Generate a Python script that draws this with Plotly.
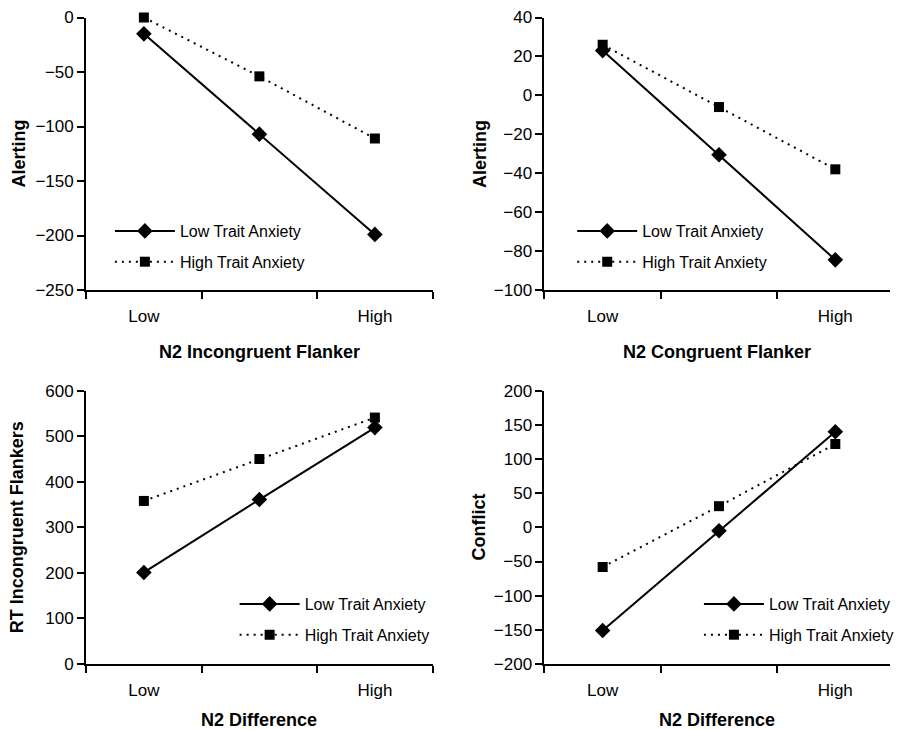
import numpy as np
import plotly.graph_objects as go

# ---- data ----
levels = ["Low", "Medium", "High"]
series_names = ["Low Trait Anxiety", "High Trait Anxiety"]

p1_low = [-15, -107, -199]
p1_high = [0, -54, -111]
p2_low = [23, -30.5, -84.5]
p2_high = [26, -6, -38]
p3_low = [201, 361, 519]
p3_high = [358, 450, 541]
p4_low = [-151, -5, 140]
p4_high = [-58, 31, 122]

panel_xtitles = ["N2 Incongruent Flanker", "N2 Congruent Flanker", "N2 Difference", "N2 Difference"]
panel_ytitles = ["Alerting", "Alerting", "RT Incongruent Flankers", "Conflict"]
panel_yranges = [(-250, 0, 50), (-100, 40, 20), (0, 600, 100), (-200, 200, 50)]
panel_data = [(p1_low, p1_high), (p2_low, p2_high), (p3_low, p3_high), (p4_low, p4_high)]

W, H = 899, 730
FONT = "Liberation Sans, Arial, sans-serif"

# panel geometry in pixels (left, right, top, bottom)
geom = [(87, 437, 17.5, 290), (550, 899, 17.5, 290), (87, 437, 390.7, 664), (550, 899, 390.7, 664)]
xmax = [3.0, 2.97, 3.0, 2.97]
legend_pos = [(111, 214), (578, 214), (237, 587), (706, 587)]
ytitle_x = [19, 485, 18, 484]
xtitle_y = [352, 352, 720, 720]

xpos = np.arange(len(levels)) + 0.5

fig = go.Figure()
annotations = []
for i, ((low, high), (x0, x1, y0, y1)) in enumerate(zip(panel_data, geom)):
    n = i + 1
    xa = "x" if n == 1 else f"x{n}"
    ya = "y" if n == 1 else f"y{n}"
    lg = "legend" if n == 1 else f"legend{n}"
    fig.add_trace(go.Scatter(
        x=xpos, y=low, name=series_names[0], xaxis=xa, yaxis=ya, legend=lg,
        mode="lines+markers", cliponaxis=False, legendgroup=f"a{n}",
        line=dict(color="black", width=2),
        marker=dict(symbol="diamond", size=12, color="black")))
    fig.add_trace(go.Scatter(
        x=xpos, y=high, name=series_names[1], xaxis=xa, yaxis=ya, legend=lg,
        mode="lines+markers", cliponaxis=False, legendgroup=f"b{n}",
        line=dict(color="black", width=2, dash="2px,5px"),
        marker=dict(symbol="square", size=10, color="black")))

    ymin, ymax, dt = panel_yranges[i]
    axis_common = dict(showline=True, linecolor="black", linewidth=2, showgrid=False,
                       zeroline=False, automargin=False,
                       tickfont=dict(family=FONT, size=17, color="black"))
    fig.layout[f"xaxis{'' if n == 1 else n}"] = dict(
        domain=[x0 / W, x1 / W], range=[0, xmax[i]], anchor=ya,
        tickvals=[xpos[0], xpos[-1]], ticktext=[levels[0], levels[-1]],
        ticks="outside", ticklen=10, tickcolor="rgba(0,0,0,0)",
        minor=dict(ticks="outside", tick0=0, dtick=1, ticklen=7, tickwidth=2, tickcolor="black"),
        **axis_common)
    fig.layout[f"yaxis{'' if n == 1 else n}"] = dict(
        domain=[1 - y1 / H, 1 - y0 / H], range=[ymin, ymax], anchor=xa,
        tickmode="linear", tick0=ymin, dtick=dt,
        ticks="outside", ticklen=7, tickwidth=2, tickcolor="black",
        **axis_common)
    lx, ly = legend_pos[i]
    fig.layout[lg] = dict(x=lx / W, y=1 - ly / H, xanchor="left", yanchor="top",
                          bgcolor="rgba(0,0,0,0)", borderwidth=0,
                          font=dict(family=FONT, size=16, color="black"),
                          traceorder="grouped", tracegroupgap=7, itemwidth=60)
    annotations.append(dict(text=f"<b>{panel_xtitles[i]}</b>", xref="paper", yref="paper",
                            x=(x0 + x1) / 2 / W, y=1 - xtitle_y[i] / H, showarrow=False,
                            xanchor="center", yanchor="middle",
                            font=dict(family=FONT, size=18, color="black")))
    annotations.append(dict(text=f"<b>{panel_ytitles[i]}</b>", xref="paper", yref="paper",
                            x=ytitle_x[i] / W, y=1 - (y0 + y1) / 2 / H, showarrow=False,
                            textangle=-90, xanchor="center", yanchor="middle",
                            font=dict(family=FONT, size=18, color="black")))

fig.update_layout(width=W, height=H, margin=dict(l=0, r=0, t=0, b=0),
                  paper_bgcolor="white", plot_bgcolor="white",
                  annotations=annotations, showlegend=True)
fig.write_html("out.html")
